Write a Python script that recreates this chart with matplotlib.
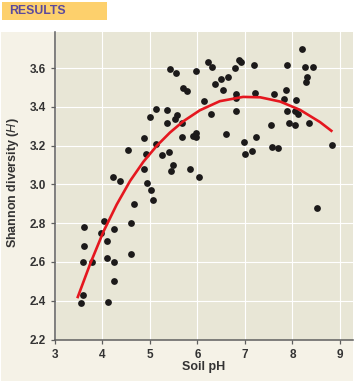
import matplotlib.pyplot as plt
from matplotlib.patches import Rectangle

# soil samples
ph = [3.54, 3.60, 3.60, 3.62, 3.61, 3.77, 3.96, 4.03, 4.10, 4.10,
      4.12, 4.24, 4.25, 4.25, 4.23, 4.37, 4.54, 4.60, 4.61, 4.66,
      4.88, 4.91, 4.88, 4.94, 5.02, 5.06, 5.00, 5.12, 5.13, 5.26,
      5.35, 5.35, 5.41, 5.42, 5.44, 5.49, 5.53, 5.56, 5.55, 5.67,
      5.67, 5.70, 5.77, 5.84, 5.90, 5.97, 5.97, 5.97, 6.04, 6.14,
      6.23, 6.30, 6.29, 6.37, 6.49, 6.53, 6.59, 6.64, 6.80, 6.87,
      6.92, 6.81, 6.81, 6.81, 6.98, 7.00, 7.15, 7.19, 7.22, 7.23,
      7.54, 7.56, 7.62, 7.69, 7.82, 7.86, 7.89, 7.89, 7.93, 8.05,
      8.07, 8.05, 8.12, 8.20, 8.26, 8.30, 8.28, 8.44, 8.35, 8.51,
      8.83]
shannon = [2.39, 2.43, 2.60, 2.68, 2.78, 2.60, 2.75, 2.81, 2.71, 2.62,
           2.395, 2.77, 2.60, 2.50, 3.04, 3.02, 3.18, 2.80, 2.64, 2.90,
           3.24, 3.155, 3.08, 3.01, 2.97, 2.92, 3.35, 3.21, 3.39, 3.15,
           3.385, 3.315, 3.17, 3.595, 3.07, 3.10, 3.34, 3.36, 3.577, 3.315,
           3.245, 3.50, 3.48, 3.08, 3.25, 3.265, 3.245, 3.585, 3.04, 3.43,
           3.63, 3.605, 3.365, 3.52, 3.545, 3.49, 3.26, 3.555, 3.60, 3.64,
           3.63, 3.467, 3.445, 3.38, 3.22, 3.155, 3.175, 3.617, 3.474, 3.245,
           3.307, 3.196, 3.466, 3.186, 3.44, 3.49, 3.617, 3.38, 3.316, 3.306,
           3.436, 3.378, 3.363, 3.70, 3.608, 3.554, 3.529, 3.608, 3.316, 2.877,
           3.206]

# fitted curve, points
fit_ph = [3.47, 3.74, 4.02, 4.30, 4.58, 4.86, 5.14, 5.42, 5.70,
          6.05, 6.47, 6.96, 7.32, 7.74, 8.16, 8.58, 8.84]
fit_h = [2.413, 2.590, 2.757, 2.897, 3.018, 3.117, 3.199, 3.268, 3.326,
         3.383, 3.430, 3.452, 3.450, 3.428, 3.385, 3.322, 3.273]

x_ticks = [3, 4, 5, 6, 7, 8, 9]
y_ticks = [2.2, 2.4, 2.6, 2.8, 3.0, 3.2, 3.4, 3.6]

plt.rcParams['font.family'] = ['Liberation Sans', 'DejaVu Sans']

W, H = 356, 384
fig = plt.figure(figsize=(W / 100, H / 100), dpi=100)
fig.patch.set_facecolor('white')

#
# panel and header tag
#
fig.add_artist(Rectangle((1 / W, 3 / H), 352 / W, 349 / H,
                         transform=fig.transFigure, facecolor='#f5f2e7',
                         edgecolor='none', zorder=-2))
fig.add_artist(Rectangle((2 / W, 1 - 19.5 / H), 105 / W, 17.5 / H,
                         transform=fig.transFigure, facecolor='#fdd06c',
                         edgecolor='none', zorder=-2))
fig.text(9 / W, 1 - 11 / H, 'RESULTS', color='#5b4a9c', fontsize=8.8,
         fontweight='bold', ha='left', va='center')

ax = fig.add_axes([55 / W, 44.5 / H, 298 / W, 307.5 / H])
ax.set_zorder(1)
ax.set_facecolor('#e8e6d6')

ax.scatter(ph, shannon, s=24, color='#1c1a1a', zorder=3, linewidths=0)
ax.plot(fit_ph, fit_h, color='#e5171f', lw=1.9, zorder=4,
        solid_capstyle='butt')

ax.set_xlim(3, 9.274)
ax.set_ylim(2.2, 3.787)
ax.set_xticks(x_ticks)
ax.set_yticks(y_ticks)
ax.set_xticklabels([str(v) for v in x_ticks])
ax.set_yticklabels(['%.1f' % v for v in y_ticks])

ax.grid(True, color='white', lw=0.8, zorder=1)
ax.set_axisbelow(True)

for side in ['top', 'right']:
    ax.spines[side].set_visible(False)
for side in ['left', 'bottom']:
    ax.spines[side].set_color('#5e5e5e')
    ax.spines[side].set_linewidth(1.1)

ax.tick_params(direction='out', length=3, width=0.9, color='#5e5e5e',
               pad=3.5, labelsize=8.5, labelcolor='#333333')
for lab in ax.get_xticklabels() + ax.get_yticklabels():
    lab.set_fontweight('bold')

ax.set_xlabel('Soil pH', fontsize=9, fontweight='bold', color='#333333')
ax.set_ylabel('Shannon diversity ($\\mathbf{\\mathit{H}}$)', fontsize=9,
              fontweight='bold', color='#333333')
ax.xaxis.set_label_coords(0.5, -0.07)
ax.yaxis.set_label_coords(-0.115, 0.51)

plt.savefig('out.png', dpi=100, facecolor=fig.get_facecolor())
plt.close()
